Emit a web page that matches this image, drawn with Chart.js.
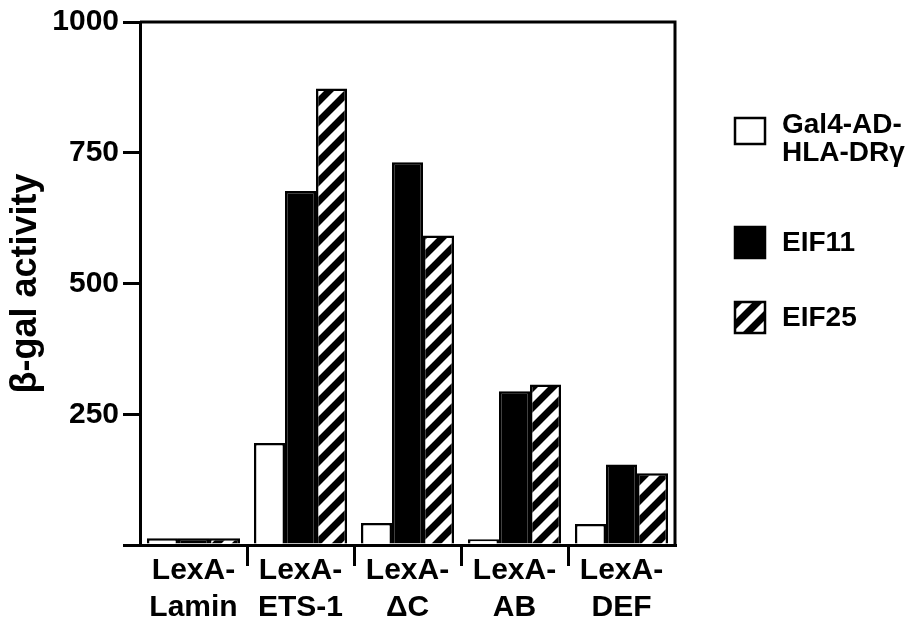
<!DOCTYPE html>
<html>
<head>
<meta charset="utf-8">
<script src="https://cdn.jsdelivr.net/npm/chart.js@4.4.1/dist/chart.umd.min.js"></script>
<style>
html,body{margin:0;padding:0;background:#fff;}
#wrap{width:922px;height:621px;position:relative;}
</style>
</head>
<body>
<div id="wrap"><canvas id="c"></canvas></div>
<script>
const categories = [['LexA-','Lamin'],['LexA-','ETS-1'],['LexA-','ΔC'],['LexA-','AB'],['LexA-','DEF']];
const seriesNames = ['Gal4-AD-\nHLA-DRγ','EIF11','EIF25'];
const gal4Values = [13, 195, 42, 11, 40];
const eif11Values = [13, 677, 732, 294, 154];
const eif25Values = [13, 873, 592, 307, 137];
const yTicks = [0, 250, 500, 750, 1000];

const FONT = '"Liberation Sans", Arial, Helvetica, sans-serif';

function makeHatch(){
  const s = 20;
  const p = document.createElement('canvas');
  p.width = s; p.height = s;
  const g = p.getContext('2d');
  g.fillStyle = '#fff'; g.fillRect(0,0,s,s);
  g.strokeStyle = '#000'; g.lineWidth = 7; g.lineCap = 'square';
  g.beginPath();
  g.moveTo(-s, s); g.lineTo(s, -s);
  g.moveTo(0, s); g.lineTo(s, 0);
  g.moveTo(0, 2*s); g.lineTo(2*s, 0);
  g.stroke();
  return document.getElementById('c').getContext('2d').createPattern(p, 'repeat');
}
const hatch = makeHatch();

const framePlugin = {
  id: 'frameLegend',
  afterDraw(chart){
    const {ctx, chartArea: a} = chart;
    ctx.save();
    ctx.strokeStyle = '#000';
    ctx.lineWidth = 3;
    ctx.beginPath();
    ctx.moveTo(a.left, a.top);
    ctx.lineTo(a.right, a.top);
    ctx.lineTo(a.right, a.bottom);
    ctx.stroke();

    // legend
    const boxX = 735, boxW = 30;
    const items = [
      {y: 118, h: 26, lines: [125, 153]},
      {y: 227, h: 31, lines: [243]},
      {y: 302, h: 31, lines: [318]}
    ];
    ctx.font = 'bold 28px ' + FONT;
    ctx.textBaseline = 'middle';
    ctx.textAlign = 'left';
    chart.data.datasets.forEach((ds, i) => {
      const it = items[i];
      ctx.fillStyle = ds.backgroundColor;
      ctx.fillRect(boxX, it.y, boxW, it.h);
      ctx.lineWidth = 2.5;
      ctx.strokeStyle = '#000';
      ctx.strokeRect(boxX, it.y, boxW, it.h);
      ctx.fillStyle = '#000';
      ds.label.split('\n').forEach((t, k) => {
        ctx.fillText(t, 782, it.lines[k]);
      });
    });
    ctx.restore();
  }
};

new Chart(document.getElementById('c'), {
  type: 'bar',
  data: {
    labels: categories,
    datasets: [
      {label: seriesNames[0], data: gal4Values, backgroundColor: '#ffffff', borderColor: '#000', borderWidth: 2.5},
      {label: seriesNames[1], data: eif11Values, backgroundColor: '#000000', borderColor: '#000', borderWidth: 2.5},
      {label: seriesNames[2], data: eif25Values, backgroundColor: hatch, borderColor: '#000', borderWidth: 2.5}
    ]
  },
  options: {
    responsive: true,
    maintainAspectRatio: false,
    animation: false,
    layout: {padding: {left: 0, right: 247, top: 19, bottom: 0}},
    categoryPercentage: 0.87,
    barPercentage: 1.0,
    plugins: {legend: {display: false}, tooltip: {enabled: false}},
    scales: {
      x: {
        afterFit: s => { s.height = 76; },
        grid: {
          offset: true,
          drawOnChartArea: false,
          drawTicks: true,
          tickLength: 21,
          lineWidth: 3,
          color: c => (c.type !== 'tick' || c.index === 0) ? 'rgba(0,0,0,0)' : '#000'
        },
        border: {color: '#000', width: 3},
        ticks: {
          color: '#000',
          padding: -14,
          maxRotation: 0,
          autoSkip: false,
          font: {family: FONT, size: 30, weight: 'bold', lineHeight: 1.23}
        }
      },
      y: {
        min: yTicks[0],
        max: yTicks[yTicks.length - 1],
        afterFit: s => { s.width = 140; },
        afterBuildTicks: s => { s.ticks = yTicks.map(v => ({value: v})); },
        grid: {
          drawOnChartArea: false,
          drawTicks: true,
          tickLength: 17,
          lineWidth: 3,
          color: '#000'
        },
        border: {color: '#000', width: 3},
        ticks: {
          color: '#000',
          padding: 4,
          font: {family: FONT, size: 30, weight: 'bold'},
          callback: v => v === 0 ? '' : String(v)
        },
        title: {
          display: true,
          text: 'β-gal activity',
          color: '#000',
          font: {family: FONT, size: 36, weight: 'bold'},
          padding: {top: 4, bottom: 4}
        }
      }
    }
  },
  plugins: [framePlugin]
});
</script>
</body>
</html>
